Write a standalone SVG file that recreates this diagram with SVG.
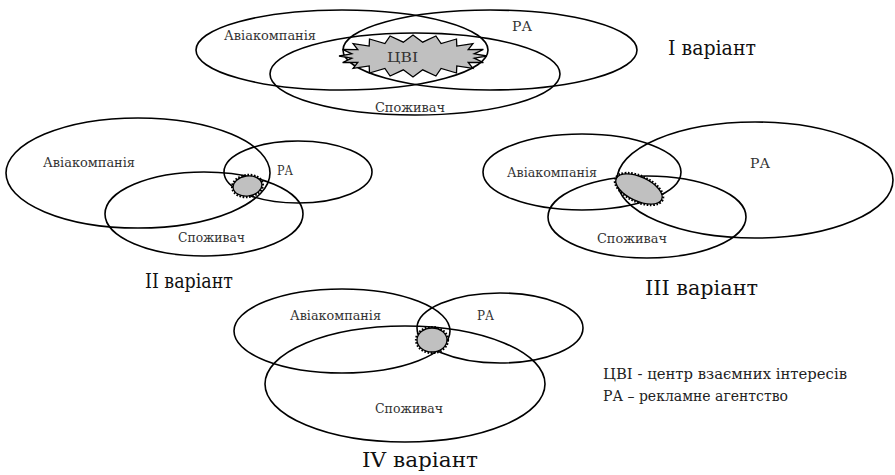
<svg xmlns="http://www.w3.org/2000/svg" width="895" height="475" viewBox="0 0 895 475" font-family="'DejaVu Serif', serif">
<style>
.e{fill:none;stroke:#000;stroke-width:1.6}
.b{fill:#c0c0c0;stroke:#000;stroke-width:1.3}
.t{fill:#333;font-size:13px}
.c{fill:#111;font-size:20px}
.l{fill:#222;font-size:15px}
.teeth{fill:none;stroke:#000;stroke-width:2.2;stroke-dasharray:1.6 1.6}
</style>
<rect width="895" height="475" fill="#fff"/>

<!-- Variant I -->
<g id="v1">
  <g id="v1-avia"><ellipse class="e" cx="342" cy="50" rx="146" ry="40"/></g>
  <g id="v1-ra"><ellipse class="e" cx="490" cy="50" rx="147" ry="40"/></g>
  <g id="v1-spoz"><ellipse class="e" cx="415" cy="74" rx="145" ry="41"/></g>
  <g id="v1-cvi">
    <polygon class="b" points="487,56 474.2,58.2 483.4,62.5 468.2,62.4 472.9,68.3 456.8,65.9 456.5,73 441.1,68.5 435.9,76 422.7,69.8 413,77 403.3,69.8 390.1,76 384.9,68.5 369.5,73 369.2,65.9 353.1,68.3 357.8,62.4 342.6,62.5 351.8,58.2 339,56 351.8,53.8 342.6,49.5 357.8,49.6 353.1,43.7 369.2,46.1 369.5,39 384.9,43.5 390.1,36 403.3,42.2 413,35 422.7,42.2 435.9,36 441.1,43.5 456.5,39 456.8,46.1 472.9,43.7 468.2,49.6 483.4,49.5 474.2,53.8"/>
    <text class="t" x="387" y="62" font-size="15" textLength="31" lengthAdjust="spacingAndGlyphs">ЦВІ</text>
  </g>
  <text class="t" x="224" y="40" textLength="92" lengthAdjust="spacingAndGlyphs">Авіакомпанія</text>
  <text class="t" x="512" y="31" textLength="20" lengthAdjust="spacingAndGlyphs">РА</text>
  <text class="t" x="375" y="112" textLength="70" lengthAdjust="spacingAndGlyphs">Споживач</text>
  <text class="c" x="668" y="55" textLength="88" lengthAdjust="spacingAndGlyphs">І варіант</text>
</g>

<!-- Variant II -->
<g id="v2">
  <g id="v2-avia"><ellipse class="e" cx="138" cy="173" rx="132" ry="55"/></g>
  <g id="v2-ra"><ellipse class="e" cx="298" cy="172" rx="74" ry="31"/></g>
  <g id="v2-spoz"><ellipse class="e" cx="204" cy="214" rx="99" ry="42"/></g>
  <g id="v2-cvi">
    <ellipse class="b" cx="247.5" cy="186" rx="14.5" ry="10" transform="rotate(-8 247.5 186)"/>
    <ellipse class="teeth" cx="247.5" cy="186" rx="15.5" ry="11" transform="rotate(-8 247.5 186)"/>
  </g>
  <text class="t" x="43" y="167" textLength="92" lengthAdjust="spacingAndGlyphs">Авіакомпанія</text>
  <text class="t" x="277" y="175" textLength="16" lengthAdjust="spacingAndGlyphs">РА</text>
  <text class="t" x="178" y="242" textLength="67" lengthAdjust="spacingAndGlyphs">Споживач</text>
  <text class="c" x="145" y="288" textLength="88" lengthAdjust="spacingAndGlyphs">ІІ варіант</text>
</g>

<!-- Variant III -->
<g id="v3">
  <g id="v3-avia"><ellipse class="e" cx="582" cy="172" rx="99" ry="38"/></g>
  <g id="v3-ra"><ellipse class="e" cx="755" cy="180" rx="138" ry="58"/></g>
  <g id="v3-spoz"><ellipse class="e" cx="647" cy="217" rx="99" ry="41"/></g>
  <g id="v3-cvi">
    <ellipse class="b" cx="639" cy="189" rx="25" ry="12" transform="rotate(25 639 189)"/>
    <ellipse class="teeth" cx="639" cy="189" rx="26" ry="13" transform="rotate(25 639 189)"/>
  </g>
  <text class="t" x="507" y="177" textLength="90" lengthAdjust="spacingAndGlyphs">Авіакомпанія</text>
  <text class="t" x="750" y="168" textLength="20" lengthAdjust="spacingAndGlyphs">РА</text>
  <text class="t" x="597" y="243" textLength="70" lengthAdjust="spacingAndGlyphs">Споживач</text>
  <text class="c" x="645" y="295" textLength="113" lengthAdjust="spacingAndGlyphs">ІІІ варіант</text>
</g>

<!-- Variant IV -->
<g id="v4">
  <g id="v4-avia"><ellipse class="e" cx="342" cy="331" rx="108" ry="42"/></g>
  <g id="v4-ra"><ellipse class="e" cx="500" cy="328" rx="83" ry="35"/></g>
  <g id="v4-spoz"><ellipse class="e" cx="405" cy="384" rx="140" ry="58"/></g>
  <g id="v4-cvi">
    <ellipse class="b" cx="432" cy="340" rx="15" ry="12"/>
    <ellipse class="teeth" cx="432" cy="340" rx="16" ry="13"/>
  </g>
  <text class="t" x="290" y="320" textLength="91" lengthAdjust="spacingAndGlyphs">Авіакомпанія</text>
  <text class="t" x="477" y="320" textLength="17" lengthAdjust="spacingAndGlyphs">РА</text>
  <text class="t" x="375" y="413" textLength="68" lengthAdjust="spacingAndGlyphs">Споживач</text>
  <text class="c" x="362" y="467" textLength="116" lengthAdjust="spacingAndGlyphs">IV варіант</text>
</g>

<!-- Legend -->
<g id="legend">
  <text class="l" x="603" y="379" textLength="244" lengthAdjust="spacingAndGlyphs">ЦВІ - центр взаємних інтересів</text>
  <text class="l" x="603" y="401" textLength="185" lengthAdjust="spacingAndGlyphs">РА – рекламне агентство</text>
</g>
</svg>
